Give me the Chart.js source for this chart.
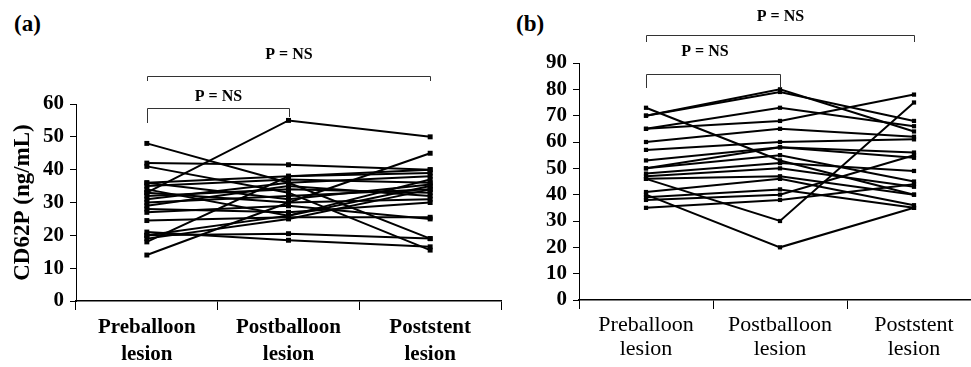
<!DOCTYPE html>
<html>
<head>
<meta charset="utf-8">
<script src="https://cdn.jsdelivr.net/npm/chart.js@4.4.1/dist/chart.umd.min.js"></script>
<style>
  html, body { margin: 0; padding: 0; background: #fff; overflow: hidden; }
  #wrap { position: relative; width: 971px; height: 367px; overflow: hidden; }
  .panel { position: absolute; top: 0; }
  .tag { position: absolute; top: 11px; font: bold 23px "Liberation Serif", "Times New Roman", serif; color: #000; }
</style>
</head>
<body>
<div id="wrap">
  <div class="tag" style="left:14px">(a)</div>
  <div class="tag" style="left:516px">(b)</div>
  <canvas id="chartA" class="panel" style="left:0px" width="505" height="367"></canvas>
  <canvas id="chartB" class="panel" style="left:505px" width="480" height="367"></canvas>
</div>
<script>
// categories shared by both panels
const categories = [['Preballoon', 'lesion'], ['Postballoon', 'lesion'], ['Poststent', 'lesion']];

// panel (a) CD62P, one row per patient: pre, post balloon, post stent
const panelA = [
  [48, 36, 19],
  [33, 55, 50],
  [14, 30, 45],
  [42, 41.5, 40],
  [41, 33, 15.5],
  [21, 18.5, 16.5],
  [20, 20.5, 19],
  [24.5, 25.5, 25.5],
  [36, 38, 39],
  [35, 37, 36],
  [34, 26, 35],
  [33, 30, 31],
  [32, 34, 33],
  [31, 36, 38],
  [30, 32, 34],
  [29, 35, 32],
  [28, 27, 30],
  [27, 29, 25],
  [18, 38, 40],
  [19, 25, 34],
  [36, 31, 35.5],
  [20, 26, 37]
];

// panel (b)
const panelB = [
  [73, 53, 40],
  [70, 80, 64],
  [70, 79, 68],
  [65, 73, 66],
  [65, 68, 78],
  [60, 65, 62],
  [57, 60, 61],
  [53, 58, 56],
  [50, 58, 54],
  [50, 55, 45],
  [48, 52, 49],
  [47, 50, 43],
  [46, 47, 40],
  [46, 30, 75],
  [41, 46, 36],
  [40, 20, 35],
  [39, 42, 35],
  [38, 40, 55],
  [35, 38, 44]
];

const yTicksA = { min: 0, max: 60, step: 10 };
const yTicksB = { min: 0, max: 90, step: 10 };

const SERIF = '"Liberation Serif", "Times New Roman", serif';

// brackets with "P = NS" above the plot
const bracketPlugin = {
  id: 'brackets',
  afterDraw(chart, args, opts) {
    const ctx = chart.ctx;
    const x = chart.scales.x;
    const top = chart.chartArea.top;
    ctx.save();
    ctx.strokeStyle = '#333';
    ctx.lineWidth = 1;
    ctx.fillStyle = '#000';
    ctx.font = 'bold 16px ' + SERIF;
    ctx.textAlign = 'center';
    ctx.textBaseline = 'middle';
    opts.items.forEach(b => {
      const x0 = Math.round(x.getPixelForValue(b.from)) + 0.5;
      const x1 = Math.round(x.getPixelForValue(b.to)) + 0.5;
      const yl = top + b.line + 0.5;
      ctx.beginPath();
      ctx.moveTo(x0, top + b.legL);
      ctx.lineTo(x0, yl);
      ctx.lineTo(x1, yl);
      ctx.lineTo(x1, top + b.legR);
      ctx.stroke();
      ctx.fillText('P = NS', b.textX != null ? b.textX : (x0 + x1) / 2, top + b.text);
    });
    ctx.restore();
  }
};

function makeChart(id, rows, yt, o) {
  const datasets = rows.map(r => ({
    data: r,
    borderColor: '#000',
    backgroundColor: '#000',
    borderWidth: 2,
    pointStyle: 'rect',
    pointRadius: o.pointRadius,
    pointBorderWidth: 0,
    tension: 0
  }));
  return new Chart(document.getElementById(id), {
    type: 'line',
    data: { labels: categories, datasets },
    plugins: [bracketPlugin],
    options: {
      responsive: false,
      animation: false,
      events: [],
      layout: { padding: { top: o.top, right: o.right, bottom: 0, left: 0 } },
      plugins: {
        legend: { display: false },
        tooltip: { enabled: false },
        brackets: { items: o.brackets }
      },
      scales: {
        x: {
          type: 'category',
          offset: true,
          afterFit: s => { s.height = o.xHeight; },
          grid: { offset: true, drawOnChartArea: false, color: '#000', tickLength: 9, tickWidth: 1 },
          border: { color: '#000', width: 1.5 },
          ticks: {
            color: '#000',
            padding: o.xPad,
            maxRotation: 0,
            autoSkip: false,
            font: { family: SERIF, size: o.xFont, weight: o.xWeight, lineHeight: o.xLine }
          }
        },
        y: {
          min: yt.min,
          max: yt.max,
          afterFit: s => { s.width = o.yWidth; },
          grid: { drawOnChartArea: false, color: '#000', tickLength: 6, tickWidth: 1 },
          border: { color: '#000', width: 1 },
          ticks: {
            stepSize: yt.step,
            autoSkip: false,
            color: '#000',
            padding: 6,
            font: { family: SERIF, size: o.yFont, weight: 'bold', lineHeight: 1 }
          },
          title: o.yTitle ? {
            display: true,
            text: o.yTitle,
            color: '#000',
            padding: { top: 9, bottom: 0 },
            font: { family: SERIF, size: 23, weight: 'bold' }
          } : { display: false }
        }
      }
    }
  });
}

makeChart('chartA', panelA, yTicksA, {
  top: 104, right: 3, yWidth: 76, xHeight: 66,
  xFont: 21, xWeight: 'bold', xLine: 1.29, xPad: 4,
  yFont: 21,
  pointRadius: 3.5,
  yTitle: 'CD62P (ng/mL)',
  brackets: [
    { from: 0, to: 2, line: -28, legL: -23, legR: -23, text: -49 },
    { from: 0, to: 1, line: 4, legL: 19, legR: 13, text: -7 }
  ]
});

makeChart('chartB', panelB, yTicksB, {
  top: 63, right: 4, yWidth: 74, xHeight: 67,
  xFont: 22, xWeight: 'normal', xLine: 1.1, xPad: 4,
  yFont: 21,
  pointRadius: 3,
  yTitle: null,
  brackets: [
    { from: 0, to: 2, line: -28, legL: -21, legR: -21, text: -46 },
    { from: 0, to: 1, line: 11, legL: 25, legR: 24, text: -11, textX: 200 }
  ]
});
</script>
</body>
</html>
